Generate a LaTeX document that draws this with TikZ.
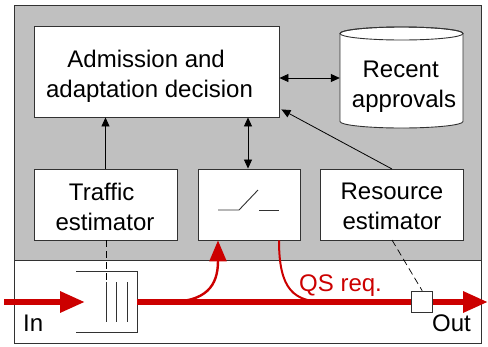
\documentclass[tikz,border=0pt]{standalone}
\usepackage{fontspec}
\setmainfont{Liberation Sans}
\usetikzlibrary{arrows.meta,calc}
\definecolor{flowred}{RGB}{204,0,0}
\definecolor{panelgray}{RGB}{192,192,192}
\definecolor{edge}{RGB}{50,50,50}
\tikzset{
  block/.style={draw=edge,fill=white,line width=0.9pt,inner sep=0pt},
  txt/.style={inner sep=0pt,align=center,font=\fontsize{24}{30}\selectfont},
  link/.style={draw=black,line width=0.8pt},
  tip/.style={-{Triangle[length=9pt,width=8pt]}},
  dtip/.style={{Triangle[length=9pt,width=8pt]}-{Triangle[length=9pt,width=8pt]}},
  probe/.style={draw=black,line width=0.7pt,dash pattern=on 7pt off 4pt},
  mainflow/.style={draw=flowred,line width=6pt,-{Triangle[length=25pt,width=20pt]}},
  label/.style={inner sep=0pt,anchor=base west,font=\fontsize{24}{30}\selectfont}
}
\begin{document}
\begin{tikzpicture}[x=1pt,y=-1pt]
\useasboundingbox (0,0) rectangle (488,346);
% controller panel and data path strip
\draw[edge,line width=0.9pt,fill=panelgray] (14,5) rectangle (481,260);
\draw[edge,line width=0.9pt,fill=white] (14,260) rectangle (481,343);

% control blocks
\node[block,minimum width=245pt,minimum height=91pt] (adm) at (156.5,71.5) {};
\node[block,minimum width=143pt,minimum height=71pt] (traffic) at (105.5,204.5) {};
\node[block,minimum width=102pt,minimum height=71pt] (switch) at (249,204.5) {};
\node[block,minimum width=143pt,minimum height=71pt] (res) at (391.5,204.5) {};
\node[txt] (admtext) at (149.5,76) {Admission and\ \null\\adaptation decision};
\node[txt] (traffictext) at (105,207) {Traffic\ \null\\estimator};
\node[txt] (restext) at (392,206.5) {Resource\\estimator};

% database cylinder
\draw[edge,line width=0.9pt,fill=white] (340,33.5) -- (340,121.5)
  arc[start angle=180,end angle=0,x radius=61.5,y radius=6.5] -- (463,33.5)
  arc[start angle=0,end angle=-180,x radius=61.5,y radius=6.5] -- cycle;
\draw[edge,line width=0.9pt] (401.5,33.5) ellipse[x radius=61.5,y radius=6.5];
\node[minimum width=123pt,minimum height=88pt,inner sep=0pt] (recent) at (401.5,84) {};
\node[txt] (recenttext) at (404,87) {Recent\ \null\\approvals};

% switch symbol
\draw[edge,line width=0.9pt] (218,210) -- (239,210) -- (258,190);
\draw[edge,line width=0.9pt] (259,210) -- (279,210);

% control connectors
\draw[link,tip] (traffic.north) -- (traffic.north |- adm.south);
\draw[link,dtip] (switch.north -| 248,0) -- (adm.south -| 248,0);
\draw[link,dtip] (adm.east |- 0,78) -- (recent.west |- 0,78);
\coordinate (admin) at ($(adm.south east)+(2,-8)$);
\draw[link,tip] (392,169) -- (admin);

% packet queue
\draw[edge,line width=0.9pt] (76,271) -- (137,271) -- (137,332) -- (76,332);
\foreach \x in {106,116.5,127}
  \draw[edge,line width=0.9pt] (\x,282) -- (\x,322);

% data flow
\coordinate (src) at (4,302);
\coordinate (qin) at (85,302);
\coordinate (qout) at (137,302);
\coordinate (sink) at (488,302);
\draw[mainflow] (src) -- (qin);
\draw[flowred,line width=2.4pt,-{Triangle[length=21pt,width=17pt]}]
  (168,302) .. controls (206,302) and (218,286) .. (switch.south -| 218,0);
\draw[flowred,line width=2pt] (switch.south -| 279,0) .. controls (279,290) and (294,302) .. (326,302);
\draw[mainflow] (qout) -- (sink);

% measurement point on the outgoing link
\node[draw=edge,fill=white,line width=0.9pt,minimum width=21pt,minimum height=21pt,inner sep=0pt]
  (meter) at (422.2,301.7) {};

% probes
\draw[probe] (traffic.south -| 106,0) -- (106,282);
\draw[probe] (392,240) -- (meter.north);

% labels
\node[label,text=flowred] (qs) at (299,291.7) {QS req.};
\node[label] (in) at (23,331.7) {In};
\node[label] (out) at (432,331.7) {Out};
\end{tikzpicture}
\end{document}
